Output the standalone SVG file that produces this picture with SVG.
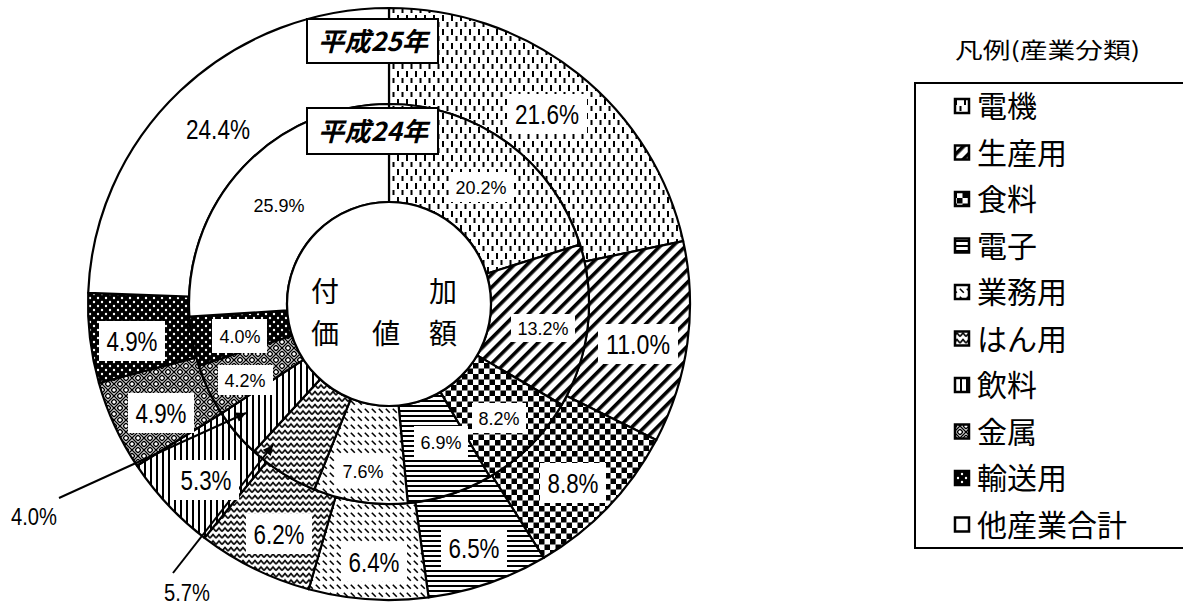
<svg xmlns="http://www.w3.org/2000/svg" width="1183" height="607" viewBox="0 0 1183 607">
<style>
.seg{stroke:#000;stroke-width:2.2;stroke-linejoin:round}
.lb{fill:#fff;stroke:none}
.po{font-family:"Liberation Sans",Arial,sans-serif;font-size:27px;fill:#000;text-anchor:middle}
.pi{font-family:"Liberation Sans",Arial,sans-serif;font-size:19px;fill:#000;text-anchor:middle}
.pc{font-family:"Liberation Sans",Arial,sans-serif;font-size:23px;fill:#000;text-anchor:middle}
.jp{font-family:"Noto Sans CJK JP","Noto Sans CJK SC",sans-serif;fill:#000}
.yr{font-family:"Noto Sans CJK JP","Noto Sans CJK SC",sans-serif;font-size:26px;font-style:italic;font-weight:700;fill:#000;text-anchor:middle}
.ctr{font-family:"Noto Sans CJK JP","Noto Sans CJK SC",sans-serif;font-size:28px;fill:#000;text-anchor:middle}
.lg{font-family:"Noto Sans CJK JP","Noto Sans CJK SC",sans-serif;font-size:30px;fill:#000}
.sym{stroke:#000;stroke-width:2.5}
.cl{stroke:#000;stroke-width:2;fill:none}
</style>
<defs>
<pattern id="pDenki" width="9" height="14" patternUnits="userSpaceOnUse">
<rect width="9" height="14" fill="#fff"/>
<rect x="1" y="1" width="2" height="6" fill="#000"/>
<rect x="5.5" y="8" width="2" height="5" fill="#000"/>
</pattern>
<pattern id="pSeisan" width="9" height="9" patternUnits="userSpaceOnUse" patternTransform="rotate(45)">
<rect width="9" height="9" fill="#fff"/>
<rect width="3.6" height="9" fill="#000"/>
</pattern>
<pattern id="pShoku" width="11" height="11" patternUnits="userSpaceOnUse">
<rect width="11" height="11" fill="#fff"/>
<rect width="5.5" height="5.5" fill="#000"/>
<rect x="5.5" y="5.5" width="5.5" height="5.5" fill="#000"/>
</pattern>
<pattern id="pDenshi" width="10" height="5" patternUnits="userSpaceOnUse">
<rect width="10" height="5" fill="#fff"/>
<rect width="10" height="2" fill="#000"/>
</pattern>
<pattern id="pGyomu" width="7" height="8" patternUnits="userSpaceOnUse">
<rect width="7" height="8" fill="#fff"/>
<path d="M0.8 0.8 L4.8 4.8" stroke="#000" stroke-width="1.6"/>
</pattern>
<pattern id="pHanyo" width="6" height="6.5" patternUnits="userSpaceOnUse">
<rect width="6" height="6.5" fill="#fff"/>
<path d="M0 5 L3 1.5 L6 5" stroke="#000" stroke-width="1.6" fill="none"/>
</pattern>
<pattern id="pInryo" width="6" height="10" patternUnits="userSpaceOnUse">
<rect width="6" height="10" fill="#fff"/>
<rect width="2" height="10" fill="#000"/>
</pattern>
<pattern id="pKinzoku" width="12" height="12" patternUnits="userSpaceOnUse">
<rect width="12" height="12" fill="#fff"/>
<path d="M0 3 L3 0 M0 6 L6 0 M3 6 L6 3 M6 3 L9 6 M6 0 L12 6 M9 0 L12 3 M0 9 L3 12 M0 6 L6 12 M3 6 L6 9 M6 12 L12 6 M6 9 L9 6 M9 12 L12 9" stroke="#000" stroke-width="1.4" fill="none"/>
</pattern>
<pattern id="pYuso" width="8" height="8" patternUnits="userSpaceOnUse">
<rect width="8" height="8" fill="#000"/>
<circle cx="2" cy="2" r="1.2" fill="#fff"/>
<circle cx="6" cy="6" r="1.2" fill="#fff"/>
</pattern>
<marker id="arr" viewBox="0 0 10 10" refX="10" refY="5" markerWidth="11" markerHeight="10" markerUnits="userSpaceOnUse" orient="auto">
<path d="M0 0 L10 5 L0 10 Z" fill="#000"/>
</marker>
</defs>
<rect width="1183" height="607" fill="#fff"/>

<g id="outer-ring">
<path id="o-denki" class="seg" fill="url(#pDenki)" d="M389,8 A301,296 0 0 1 683.2,241.2 L584.5,261.6 A200,200 0 0 0 389,104 Z"/>
<path id="o-seisan" class="seg" fill="url(#pSeisan)" d="M683.2,241.2 A301,296 0 0 1 656.3,440.0 L566.6,395.9 A200,200 0 0 0 584.5,261.6 Z"/>
<path id="o-shoku" class="seg" fill="url(#pShoku)" d="M656.3,440.0 A301,296 0 0 1 543.8,557.8 L491.9,475.5 A200,200 0 0 0 566.6,395.9 Z"/>
<path id="o-denshi" class="seg" fill="url(#pDenshi)" d="M543.8,557.8 A301,296 0 0 1 428.6,597.4 L415.3,502.3 A200,200 0 0 0 491.9,475.5 Z"/>
<path id="o-gyomu" class="seg" fill="url(#pGyomu)" d="M428.6,597.4 A301,296 0 0 1 308.7,589.3 L335.6,496.7 A200,200 0 0 0 415.3,502.3 Z"/>
<path id="o-hanyo" class="seg" fill="url(#pHanyo)" d="M308.7,589.3 A301,296 0 0 1 204.5,537.9 L266.4,462.0 A200,200 0 0 0 335.6,496.7 Z"/>
<path id="o-inryo" class="seg" fill="url(#pInryo)" d="M204.5,537.9 A301,296 0 0 1 136.9,465.7 L221.5,413.3 A200,200 0 0 0 266.4,462.0 Z"/>
<path id="o-kinzoku" class="seg" fill="url(#pKinzoku)" d="M136.9,465.7 A301,296 0 0 1 98.9,383.0 L196.3,357.4 A200,200 0 0 0 221.5,413.3 Z"/>
<path id="o-yuso" class="seg" fill="url(#pYuso)" d="M98.9,383.0 A301,296 0 0 1 88.2,292.8 L189.1,296.5 A200,200 0 0 0 196.3,357.4 Z"/>
<path id="o-other" class="seg" fill="#fff" d="M88.2,292.8 A301,296 0 0 1 389,8 L389,104 A200,200 0 0 0 189.1,296.5 Z"/>
</g>

<g id="inner-ring">
<path id="i-denki" class="seg" fill="url(#pDenki)" d="M389,104 A200,200 0 0 1 580.0,244.6 L486.4,273.7 A102,102 0 0 0 389,202 Z"/>
<path id="i-seisan" class="seg" fill="url(#pSeisan)" d="M580.0,244.6 A200,200 0 0 1 561.8,404.7 L477.1,355.4 A102,102 0 0 0 486.4,273.7 Z"/>
<path id="i-shoku" class="seg" fill="url(#pShoku)" d="M561.8,404.7 A200,200 0 0 1 489.7,476.8 L440.4,392.1 A102,102 0 0 0 477.1,355.4 Z"/>
<path id="i-denshi" class="seg" fill="url(#pDenshi)" d="M489.7,476.8 A200,200 0 0 1 407.8,503.1 L398.6,405.5 A102,102 0 0 0 440.4,392.1 Z"/>
<path id="i-gyomu" class="seg" fill="url(#pGyomu)" d="M407.8,503.1 A200,200 0 0 1 314.2,489.5 L350.9,398.6 A102,102 0 0 0 398.6,405.5 Z"/>
<path id="i-hanyo" class="seg" fill="url(#pHanyo)" d="M314.2,489.5 A200,200 0 0 1 253.9,451.5 L320.1,379.2 A102,102 0 0 0 350.9,398.6 Z"/>
<path id="i-inryo" class="seg" fill="url(#pInryo)" d="M253.9,451.5 A200,200 0 0 1 221.5,413.3 L303.6,359.7 A102,102 0 0 0 320.1,379.2 Z"/>
<path id="i-kinzoku" class="seg" fill="url(#pKinzoku)" d="M221.5,413.3 A200,200 0 0 1 198.8,365.8 L292.0,335.5 A102,102 0 0 0 303.6,359.7 Z"/>
<path id="i-yuso" class="seg" fill="url(#pYuso)" d="M198.8,365.8 A200,200 0 0 1 189.4,316.6 L287.2,310.4 A102,102 0 0 0 292.0,335.5 Z"/>
<path id="i-other" class="seg" fill="#fff" d="M189.4,316.6 A200,200 0 0 1 389,104 L389,202 A102,102 0 0 0 287.2,310.4 Z"/>
</g>

<g id="center">
<circle cx="389" cy="304" r="102" fill="#fff" stroke="#000" stroke-width="2.2"/>
<text class="ctr" x="325" y="302">付</text>
<text class="ctr" x="443" y="302">加</text>
<text class="ctr" x="325" y="344">価</text>
<text class="ctr" x="386" y="344">値</text>
<text class="ctr" x="443" y="344">額</text>
</g>

<g id="year-labels">
<g id="y25">
<rect x="307" y="19" width="131" height="44" fill="#fff" stroke="#000" stroke-width="2"/>
<text class="yr" x="373" y="51" textLength="110" lengthAdjust="spacingAndGlyphs">平成25年</text>
</g>
<g id="y24">
<rect x="307" y="108" width="131" height="46" fill="#fff" stroke="#000" stroke-width="2"/>
<text class="yr" x="373" y="141" textLength="110" lengthAdjust="spacingAndGlyphs">平成24年</text>
</g>
</g>

<g id="connectors">
<line class="cl" x1="59" y1="498" x2="246" y2="413" marker-end="url(#arr)"/>
<line class="cl" x1="173" y1="573" x2="273" y2="445" marker-end="url(#arr)"/>
</g>

<g id="labels-outer">
<rect class="lb" x="507" y="94" width="80" height="40"/>
<text class="po" x="547" y="124" textLength="64" lengthAdjust="spacingAndGlyphs">21.6%</text>
<text class="po" x="218" y="139" textLength="64" lengthAdjust="spacingAndGlyphs">24.4%</text>
<rect class="lb" x="598" y="324" width="80" height="40"/>
<text class="po" x="638" y="354" textLength="64" lengthAdjust="spacingAndGlyphs">11.0%</text>
<rect class="lb" x="540" y="463" width="66" height="40"/>
<text class="po" x="573" y="493" textLength="51" lengthAdjust="spacingAndGlyphs">8.8%</text>
<rect class="lb" x="441" y="528" width="66" height="40"/>
<text class="po" x="474" y="558" textLength="51" lengthAdjust="spacingAndGlyphs">6.5%</text>
<rect class="lb" x="341" y="543" width="66" height="38"/>
<text class="po" x="374" y="572" textLength="51" lengthAdjust="spacingAndGlyphs">6.4%</text>
<rect class="lb" x="246" y="514" width="66" height="40"/>
<text class="po" x="279" y="544" textLength="51" lengthAdjust="spacingAndGlyphs">6.2%</text>
<rect class="lb" x="173" y="460" width="66" height="40"/>
<text class="po" x="206" y="490" textLength="51" lengthAdjust="spacingAndGlyphs">5.3%</text>
<rect class="lb" x="128" y="393" width="66" height="40"/>
<text class="po" x="161" y="423" textLength="51" lengthAdjust="spacingAndGlyphs">4.9%</text>
<rect class="lb" x="99" y="321" width="66" height="40"/>
<text class="po" x="132" y="351" textLength="51" lengthAdjust="spacingAndGlyphs">4.9%</text>
</g>

<g id="labels-inner">
<rect class="lb" x="449" y="172" width="64" height="30"/>
<text class="pi" x="481" y="194" textLength="51" lengthAdjust="spacingAndGlyphs">20.2%</text>
<text class="pi" x="279" y="212" textLength="51" lengthAdjust="spacingAndGlyphs">25.9%</text>
<rect class="lb" x="511" y="314" width="64" height="28"/>
<text class="pi" x="543" y="335" textLength="51" lengthAdjust="spacingAndGlyphs">13.2%</text>
<rect class="lb" x="472" y="403" width="54" height="30"/>
<text class="pi" x="499" y="425" textLength="41" lengthAdjust="spacingAndGlyphs">8.2%</text>
<rect class="lb" x="414" y="426" width="54" height="32"/>
<text class="pi" x="441" y="449" textLength="41" lengthAdjust="spacingAndGlyphs">6.9%</text>
<rect class="lb" x="336" y="455" width="54" height="32"/>
<text class="pi" x="363" y="478" textLength="41" lengthAdjust="spacingAndGlyphs">7.6%</text>
<rect class="lb" x="212" y="319" width="55" height="34"/>
<text class="pi" x="240" y="343" textLength="41" lengthAdjust="spacingAndGlyphs">4.0%</text>
<rect class="lb" x="218" y="365" width="55" height="30"/>
<text class="pi" x="245" y="387" textLength="41" lengthAdjust="spacingAndGlyphs">4.2%</text>
</g>

<g id="labels-callout">
<text class="pc" x="34" y="525" textLength="46" lengthAdjust="spacingAndGlyphs">4.0%</text>
<text class="pc" x="187" y="601" textLength="46" lengthAdjust="spacingAndGlyphs">5.7%</text>
</g>

<g id="legend">
<text class="jp" x="955" y="58" font-size="22" textLength="185" lengthAdjust="spacingAndGlyphs">凡例(産業分類)</text>
<rect x="915" y="83" width="280" height="465" fill="none" stroke="#000" stroke-width="2"/>
<g id="lg-denki"><rect class="sym" x="955" y="99" width="14" height="14" fill="url(#pDenki)"/><text class="lg" x="977" y="117">電機</text></g>
<g id="lg-seisan"><rect class="sym" x="955" y="145.5" width="14" height="14" fill="url(#pSeisan)"/><text class="lg" x="977" y="163.5">生産用</text></g>
<g id="lg-shoku"><rect class="sym" x="955" y="192" width="14" height="14" fill="url(#pShoku)"/><text class="lg" x="977" y="210">食料</text></g>
<g id="lg-denshi"><rect class="sym" x="955" y="238.5" width="14" height="14" fill="url(#pDenshi)"/><text class="lg" x="977" y="256.5">電子</text></g>
<g id="lg-gyomu"><rect class="sym" x="955" y="285" width="14" height="14" fill="url(#pGyomu)"/><text class="lg" x="977" y="303">業務用</text></g>
<g id="lg-hanyo"><rect class="sym" x="955" y="331.5" width="14" height="14" fill="url(#pHanyo)"/><text class="lg" x="977" y="349.5">はん用</text></g>
<g id="lg-inryo"><rect class="sym" x="955" y="378" width="14" height="14" fill="url(#pInryo)"/><text class="lg" x="977" y="396">飲料</text></g>
<g id="lg-kinzoku"><rect class="sym" x="955" y="424.5" width="14" height="14" fill="url(#pKinzoku)"/><text class="lg" x="977" y="442.5">金属</text></g>
<g id="lg-yuso"><rect class="sym" x="955" y="471" width="14" height="14" fill="url(#pYuso)"/><text class="lg" x="977" y="489">輸送用</text></g>
<g id="lg-other"><rect class="sym" x="955" y="517.5" width="14" height="14" fill="#fff"/><text class="lg" x="977" y="535.5">他産業合計</text></g>
</g>
</svg>
